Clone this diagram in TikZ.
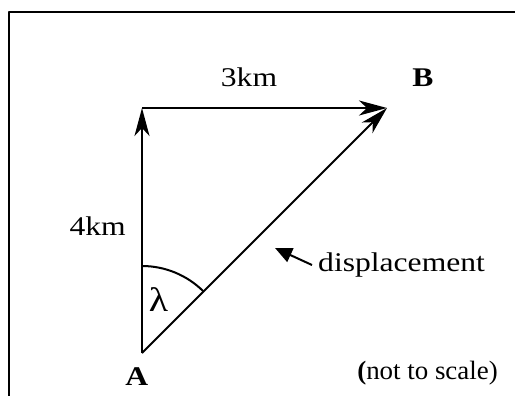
\documentclass[tikz,border=0pt]{standalone}
\usepackage{fontspec}
\setmainfont{Liberation Serif}
\usetikzlibrary{arrows.meta}

\begin{document}
\begin{tikzpicture}[
  x=1pt,
  y=-1pt,
  line join=round,
  frame/.style={draw=black,line width=2pt},
  leg/.style={draw=black,line width=2pt,-{Stealth[length=28pt,width=15pt,inset=8pt]}},
  pointer/.style={draw=black,line width=2pt,-{Triangle[length=17pt,width=15pt]}},
  angarc/.style={draw=black,line width=2pt},
  label/.style={font=\fontsize{27}{32}\selectfont,inner sep=0pt,anchor=base,transform shape,xscale=1.17}
]
  \useasboundingbox (0,0) rectangle (515,396);

  % Frame: only the top and left edges show.
  \draw[frame] (9,396) -- (9,12) -- (515,12);

  % Corners of the triangle.
  \coordinate (A) at (142,353);
  \coordinate (C) at (142,108);
  \coordinate (B) at (387,108);

  % The two legs and the displacement.
  \draw[leg] (A) -- (C);
  \draw[leg] (C) -- (B);
  \draw[leg] (A) -- (B);

  % Angle at A (y runs downwards, so the angles are negative).
  \draw[angarc] (A) ++(0,-87) arc[start angle=-90,end angle=-45,radius=87];

  % Labels.
  \node[label] (north) at (249,86.7) {3km};
  \node[label] (east) at (97.7,235.7) {4km};
  \node[label] (labelB) at (423,86.7) {\textbf{B}};
  \node[label] (labelA) at (136.7,385) {\textbf{A}};
  \node[label,font=\fontsize{34}{40}\selectfont,xscale=1] (lambda) at (158.5,311.7) {λ};
  \node[label,anchor=base west] (disp) at (318,271.7) {displacement};
  \node[label,anchor=base east,font=\fontsize{23}{28}\selectfont,yscale=1.15,xscale=1] (scale) at (498,379) {\textbf{(}not to scale)};

  % Pointer to the displacement.
  \coordinate (tail) at (312,265);
  \coordinate (tip) at (275,248);
  \draw[pointer] (tail) -- (tip);
\end{tikzpicture}
\end{document}
